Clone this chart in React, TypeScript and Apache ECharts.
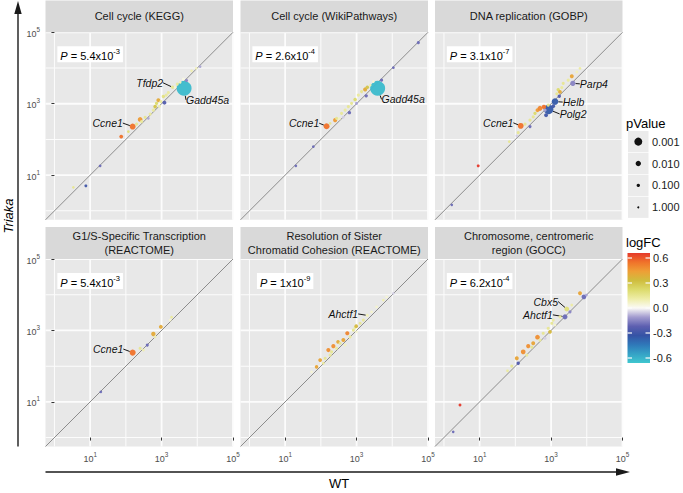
import React, { useEffect, useRef } from 'react';
import * as echarts from 'echarts';

const FONT = '"Liberation Sans", Arial, Helvetica, sans-serif';

// ---------- facet texts ----------
const panelTitles = [
  'Cell cycle (KEGG)',
  'Cell cycle (WikiPathways)',
  'DNA replication (GOBP)',
  'G1/S-Specific Transcription\n(REACTOME)',
  'Resolution of Sister\nChromatid Cohesion (REACTOME)',
  'Chromosome, centromeric\nregion (GOCC)',
];
const panelPMantissa = ['5.4', '2.6', '3.1', '5.4', '1', '6.2'];
const panelPExponent = ['-3', '-4', '-7', '-3', '-9', '-4'];

// ---------- data: [log10 WT, log10 Triaka, logFC, pValue, gene] ----------
type Pt = [number, number, number, number, string?];

const keggPoints: Pt[] = [
  [3.63, 3.43, -0.62, 1e-5, 'Gadd45a'],
  [0.53, 0.66, 0.15, 0.3],
  [0.88, 0.70, -0.30, 0.2],
  [1.28, 1.26, -0.20, 0.25],
  [1.87, 2.08, 0.55, 0.06],
  [2.07, 2.22, 0.20, 0.25],
  [2.19, 2.36, 0.55, 0.006, 'Ccne1'],
  [2.30, 2.43, 0.15, 0.15],
  [2.40, 2.56, 0.45, 0.02],
  [2.44, 2.50, 0.13, 0.15],
  [2.54, 2.62, 0.15, 0.15],
  [2.63, 2.59, -0.10, 0.25],
  [2.68, 2.71, 0.13, 0.15],
  [2.77, 2.82, 0.13, 0.15],
  [2.82, 2.92, 0.30, 0.08],
  [2.86, 3.01, 0.22, 0.1],
  [2.91, 3.10, 0.40, 0.05],
  [2.94, 2.93, 0.10, 0.15],
  [2.98, 3.06, 0.13, 0.15],
  [3.08, 3.03, -0.25, 0.05],
  [3.05, 3.20, 0.18, 0.1],
  [3.13, 3.24, 0.13, 0.15],
  [3.19, 3.31, 0.13, 0.15],
  [3.31, 3.46, 0.15, 0.1, 'Tfdp2'],
  [3.38, 3.46, 0.05, 0.25],
  [3.44, 3.55, 0.13, 0.15],
  [3.52, 3.60, 0.08, 0.25],
  [3.61, 3.69, 0.03, 0.15],
  [3.70, 3.65, -0.15, 0.15],
  [3.84, 3.92, 0.10, 0.3],
  [3.97, 3.99, 0.08, 0.3],
  [4.08, 4.04, -0.10, 0.3],
];

const wikiPoints: Pt[] = [
  [3.59, 3.43, -0.62, 1e-5, 'Gadd45a'],
  [1.30, 1.26, -0.20, 0.3],
  [1.79, 1.80, -0.20, 0.25],
  [2.16, 2.37, 0.55, 0.006, 'Ccne1'],
  [2.26, 2.45, 0.15, 0.25],
  [2.40, 2.54, 0.45, 0.04],
  [2.44, 2.59, 0.15, 0.15],
  [2.52, 2.58, 0.08, 0.25],
  [2.58, 2.73, 0.14, 0.15],
  [2.63, 2.62, -0.05, 0.25],
  [2.68, 2.82, 0.13, 0.15],
  [2.77, 2.92, 0.15, 0.15],
  [2.80, 2.75, -0.20, 0.1],
  [2.86, 3.01, 0.15, 0.15],
  [2.96, 3.12, 0.22, 0.08],
  [3.00, 3.01, -0.10, 0.15],
  [3.05, 3.24, 0.13, 0.15],
  [3.14, 3.34, 0.15, 0.15],
  [3.24, 3.40, 0.40, 0.04],
  [3.27, 3.22, -0.20, 0.1],
  [3.30, 3.46, 0.30, 0.08],
  [3.38, 3.52, 0.10, 0.25],
  [3.47, 3.62, 0.05, 0.25],
  [3.70, 3.66, -0.20, 0.15],
  [4.03, 4.01, -0.20, 0.25],
  [4.73, 4.71, -0.20, 0.15],
];

const dnaReplicationPoints: Pt[] = [
  [2.93, 2.84, -0.35, 3e-4, 'Polg2'],
  [3.11, 3.06, -0.35, 0.003, 'Helb'],
  [3.61, 3.57, -0.15, 0.012, 'Parp4'],
  [0.22, 0.17, -0.20, 0.3],
  [0.96, 1.26, 0.66, 0.2],
  [1.83, 1.94, 0.15, 0.25],
  [2.04, 2.10, -0.05, 0.25],
  [2.08, 2.19, 0.15, 0.15],
  [2.15, 2.38, 0.55, 0.006, 'Ccne1'],
  [2.27, 2.43, 0.15, 0.15],
  [2.41, 2.36, -0.20, 0.15],
  [2.41, 2.54, 0.15, 0.15],
  [2.50, 2.63, 0.15, 0.15],
  [2.55, 2.73, 0.22, 0.1],
  [2.62, 2.82, 0.45, 0.05],
  [2.69, 2.87, 0.50, 0.015],
  [2.80, 2.91, 0.55, 0.03],
  [2.83, 2.82, -0.10, 0.15],
  [2.86, 2.68, -0.30, 0.05],
  [2.92, 2.96, 0.15, 0.15],
  [3.06, 2.93, -0.30, 0.06],
  [3.16, 3.28, 0.15, 0.15],
  [3.20, 3.39, 0.22, 0.1],
  [3.23, 3.21, -0.25, 0.1],
  [3.25, 3.33, 0.40, 0.06],
  [3.30, 3.45, 0.13, 0.15],
  [3.34, 3.57, 0.15, 0.15],
  [3.48, 3.66, 0.13, 0.15],
  [3.58, 3.77, 0.42, 0.05],
  [3.72, 3.89, 0.08, 0.25],
  [3.81, 3.99, 0.13, 0.25],
];

const g1sPoints: Pt[] = [
  [1.30, 1.28, -0.20, 0.3],
  [2.19, 2.38, 0.55, 0.005, 'Ccne1'],
  [2.40, 2.50, 0.15, 0.15],
  [2.49, 2.45, 0.10, 0.25],
  [2.60, 2.59, -0.20, 0.15],
  [2.77, 2.90, 0.40, 0.03],
  [2.82, 2.82, 0.10, 0.25],
  [2.98, 3.10, 0.40, 0.05],
  [3.24, 3.29, 0.05, 0.25],
  [3.28, 3.37, 0.13, 0.25],
];

const sisterPoints: Pt[] = [
  [1.74, 1.84, 0.05, 0.3],
  [1.88, 1.98, 0.42, 0.08],
  [1.98, 2.17, 0.42, 0.06],
  [2.07, 2.08, 0.13, 0.25],
  [2.12, 2.22, 0.15, 0.15],
  [2.21, 2.45, 0.48, 0.04],
  [2.26, 2.31, 0.13, 0.15],
  [2.30, 2.40, 0.15, 0.15],
  [2.35, 2.56, 0.48, 0.04],
  [2.44, 2.50, 0.13, 0.15],
  [2.48, 2.68, 0.40, 0.08],
  [2.54, 2.64, 0.15, 0.15],
  [2.63, 2.73, 0.42, 0.05],
  [2.68, 2.59, 0.08, 0.25],
  [2.74, 2.92, 0.50, 0.04],
  [2.82, 2.82, 0.13, 0.15],
  [2.91, 3.01, 0.15, 0.15],
  [2.96, 3.08, 0.13, 0.15],
  [2.99, 3.12, 0.35, 0.08],
  [3.00, 2.96, 0.05, 0.25],
  [3.10, 3.20, 0.15, 0.15],
  [3.19, 3.29, 0.14, 0.15],
  [3.30, 3.42, 0.08, 0.15, 'Ahctf1'],
  [3.42, 3.52, 0.06, 0.25],
  [3.56, 3.66, 0.06, 0.25],
  [3.75, 3.85, 0.10, 0.3],
  [3.84, 3.94, 0.05, 0.3],
  [4.03, 4.04, -0.05, 0.3],
];

const centromerePoints: Pt[] = [
  [0.26, 0.16, -0.20, 0.3],
  [0.45, 0.91, 0.66, 0.2],
  [1.78, 1.87, 0.13, 0.25],
  [1.90, 2.00, 0.15, 0.15],
  [2.04, 2.22, 0.42, 0.05],
  [2.08, 2.08, -0.25, 0.1],
  [2.22, 2.40, 0.48, 0.02],
  [2.32, 2.31, 0.13, 0.15],
  [2.36, 2.56, 0.48, 0.04],
  [2.46, 2.53, 0.15, 0.15],
  [2.50, 2.64, 0.42, 0.05],
  [2.62, 2.81, 0.48, 0.02],
  [2.69, 2.73, 0.13, 0.15],
  [2.78, 2.92, 0.15, 0.15],
  [2.83, 2.78, -0.05, 0.15],
  [2.92, 3.06, 0.15, 0.15],
  [2.97, 2.96, 0.35, 0.06],
  [3.02, 3.20, 0.15, 0.15],
  [3.06, 3.29, 0.13, 0.15],
  [3.11, 3.15, 0.06, 0.25],
  [3.25, 3.38, 0.13, 0.15],
  [3.39, 3.38, -0.20, 0.015, 'Ahctf1'],
  [3.44, 3.60, 0.20, 0.02, 'Cbx5'],
  [3.53, 3.52, -0.15, 0.15],
  [3.58, 3.71, 0.12, 0.25],
  [3.81, 4.04, 0.42, 0.05],
  [3.92, 3.94, -0.20, 0.02],
  [3.99, 3.99, -0.10, 0.25],
];

const panelPoints = [keggPoints, wikiPoints, dnaReplicationPoints, g1sPoints, sisterPoints, centromerePoints];

// ---------- scales ----------
const AXIS_MIN = -0.25; // log10 limits
const AXIS_MAX = 5;
const majorBreaks = [1, 3, 5];
const minorBreaks = [0, 2, 4];
const legendPValues = [0.001, 0.01, 0.1, 1];
const legendPLabels = ['0.001', '0.010', '0.100', '1.000'];
const logFCTicks = [0.6, 0.3, 0.0, -0.3, -0.6];
const LOGFC_MIN = -0.66;
const LOGFC_MAX = 0.66;
// colours from logFC = -0.66 to 0.66, evenly spaced
const logFCColors = [
  '#3fc7cf', '#35a2c6', '#2f78b9', '#3553a5', '#5d5fb0', '#a29bcf', '#fbfaf6',
  '#eeeda8', '#dcdb6c', '#cfbd3e', '#ee9f36', '#f0722a', '#e5392b',
];
const GRID_LINE_COLOR = '#fcfcfc';
const PANEL_BG = '#e8e8e8';

// label offsets (px) of the repelled gene labels, key = panel:gene
const geneLabelOffsets: Record<string, [number, number]> = {
  '0:Ccne1': [-25, -3.5], '0:Tfdp2': [-23, -4.5], '0:Gadd45a': [23.5, 11.5],
  '1:Ccne1': [-22.5, -3], '1:Gadd45a': [25.5, 11],
  '2:Ccne1': [-22.5, -3], '2:Parp4': [21, 0.5], '2:Helb': [18.5, 0.5], '2:Polg2': [24.5, 4.5],
  '3:Ccne1': [-24.5, -3.5],
  '4:Ahctf1': [-24, -1.5],
  '5:Cbx5': [-21, -7.5], '5:Ahctf1': [-27, -2],
};

// ---------- layout ----------
const LEFTS = [45.5, 240.5, 435];
const TOPS = [32.3, 259];
const PSIZE = 187.5;
const STRIP_H = 31.9;

function sizeOfP(p: number): number {
  const L = -Math.log10(p);
  return 2 + 1.1 * L + 0.3 * L * L;
}

function buildOption(): { option: any; graphic: any[] } {
  const grid: any[] = [];
  const xAxis: any[] = [];
  const yAxis: any[] = [];
  const series: any[] = [];
  const graphic: any[] = [];
  const scatterIdx: number[] = [];

  const tickRich = {
    b: { fontSize: 9, fontFamily: FONT, color: '#4d4d4d', lineHeight: 12, verticalAlign: 'bottom' },
    s: { fontSize: 6.3, fontFamily: FONT, color: '#4d4d4d', lineHeight: 6, verticalAlign: 'top' },
  };
  const tickFmt = (v: number) => `{b|10}{s|${v}}`;

  for (let i = 0; i < 6; i++) {
    const col = i % 3;
    const row = Math.floor(i / 3);
    const left = LEFTS[col];
    const top = TOPS[row];
    grid.push({
      left, top, width: PSIZE, height: PSIZE, show: false, containLabel: false, outerBoundsMode: 'none',
    });
    // panel background
    graphic.push({
      type: 'rect', silent: true, z: -5,
      shape: { x: left, y: top, width: PSIZE, height: PSIZE },
      style: { fill: PANEL_BG },
    });
    xAxis.push({
      type: 'value', gridIndex: i, min: AXIS_MIN, max: AXIS_MAX,
      axisLine: { show: false },
      axisTick: { show: row === 1, length: 3, lineStyle: { color: '#333333', width: 1 }, customValues: majorBreaks },
      axisLabel: { show: row === 1, customValues: majorBreaks, formatter: tickFmt, rich: tickRich, margin: 5 },
      splitLine: { show: false },
    });
    yAxis.push({
      type: 'value', gridIndex: i, min: AXIS_MIN, max: AXIS_MAX,
      axisLine: { show: false },
      axisTick: { show: col === 0, length: 3, lineStyle: { color: '#333333', width: 1 }, customValues: majorBreaks },
      axisLabel: { show: col === 0, customValues: majorBreaks, formatter: tickFmt, rich: tickRich, margin: 5.5 },
      splitLine: { show: false },
    });

    // y = x reference line
    series.push({
      type: 'line', xAxisIndex: i, yAxisIndex: i, silent: true, symbol: 'none', z: 3,
      data: [[AXIS_MIN, AXIS_MIN], [AXIS_MAX, AXIS_MAX]],
      lineStyle: { color: '#8c8c8c', width: 1 },
    });

    const pts = panelPoints[i];
    scatterIdx.push(series.length);
    series.push({
      type: 'scatter', xAxisIndex: i, yAxisIndex: i, z: 4,
      symbolSize: (v: number[]) => sizeOfP(v[3]),
      itemStyle: { opacity: 0.95 },
      label: {
        show: false, position: 'inside', formatter: '{b}',
        fontFamily: FONT, fontSize: 10.5, fontStyle: 'italic', color: '#000000',
      },
      labelLine: { show: false, lineStyle: { color: '#000000', width: 0.9 } },
      labelLayout: (params: any) => {
        const d = pts[params.dataIndex];
        const off = d && d[4] ? geneLabelOffsets[`${i}:${d[4]}`] : undefined;
        return off ? { dx: off[0], dy: off[1] } : {};
      },
      data: pts.map((d) => {
        const item: any = { value: [d[0], d[1], d[2], d[3]] };
        if (d[4]) {
          item.name = d[4];
          item.label = { show: true };
          item.labelLine = { show: true };
        }
        return item;
      }),
    });

    // strip
    graphic.push({
      type: 'rect', silent: true,
      shape: { x: left, y: top - STRIP_H, width: PSIZE, height: STRIP_H },
      style: { fill: '#d9d9d9' },
    });
    graphic.push({
      type: 'text', silent: true, x: left + PSIZE / 2, y: top - STRIP_H / 2,
      style: {
        text: panelTitles[i], align: 'center', verticalAlign: 'middle',
        font: `11px ${FONT}`, fill: '#1a1a1a', lineHeight: 13.5,
      },
    });
    // P-value annotation, centred at WT = 10^1
    graphic.push({
      type: 'text', silent: true, z: 20,
      x: left + ((1 - AXIS_MIN) / (AXIS_MAX - AXIS_MIN)) * PSIZE,
      y: top + 22,
      style: {
        text: `{i|P}{t| = ${panelPMantissa[i]}x10}{s|${panelPExponent[i]}}`,
        align: 'center', verticalAlign: 'middle',
        backgroundColor: '#ffffff', padding: [1, 3, 1, 3],
        rich: {
          i: { fontSize: 11, fontStyle: 'italic', fontFamily: FONT, fill: '#000', color: '#000', lineHeight: 14, verticalAlign: 'bottom' },
          t: { fontSize: 11, fontFamily: FONT, fill: '#000', color: '#000', lineHeight: 14, verticalAlign: 'bottom' },
          s: { fontSize: 7.5, fontFamily: FONT, fill: '#000', color: '#000', lineHeight: 7, verticalAlign: 'top' },
        },
      },
    });
  }

  // axis arrows and titles
  graphic.push({ type: 'line', silent: true, shape: { x1: 18, y1: 446.5, x2: 18, y2: 12 }, style: { stroke: '#1a1a1a', lineWidth: 1.4 } });
  graphic.push({ type: 'polygon', silent: true, shape: { points: [[18, 1], [14.3, 14], [21.7, 14]] }, style: { fill: '#1a1a1a' } });
  graphic.push({ type: 'line', silent: true, shape: { x1: 45.5, y1: 472, x2: 618, y2: 472 }, style: { stroke: '#1a1a1a', lineWidth: 1.4 } });
  graphic.push({ type: 'polygon', silent: true, shape: { points: [[630, 472], [616, 468.3], [616, 475.7]] }, style: { fill: '#1a1a1a' } });
  graphic.push({
    type: 'text', silent: true, x: 8, y: 216, rotation: Math.PI / 2,
    style: { text: 'Triaka', font: `italic 13px ${FONT}`, fill: '#000', align: 'center', verticalAlign: 'middle' },
  });
  graphic.push({
    type: 'text', silent: true, x: 339, y: 483,
    style: { text: 'WT', font: `13px ${FONT}`, fill: '#000', align: 'center', verticalAlign: 'middle' },
  });

  // size legend
  graphic.push({
    type: 'text', silent: true, x: 626, y: 123,
    style: { text: 'pValue', font: `13px ${FONT}`, fill: '#000', align: 'left', verticalAlign: 'middle' },
  });
  legendPValues.forEach((p, k) => {
    const ky = 131 + k * 21.9;
    graphic.push({ type: 'rect', silent: true, shape: { x: 628, y: ky, width: 20.5, height: 21.2 }, style: { fill: '#ebebeb' } });
    graphic.push({ type: 'circle', silent: true, shape: { cx: 638.3, cy: ky + 10.6, r: sizeOfP(p) / 2 }, style: { fill: '#111111' } });
    graphic.push({
      type: 'text', silent: true, x: 652, y: ky + 10.6,
      style: { text: legendPLabels[k], font: `11px ${FONT}`, fill: '#1a1a1a', align: 'left', verticalAlign: 'middle' },
    });
  });

  // colour legend
  graphic.push({
    type: 'text', silent: true, x: 626, y: 242,
    style: { text: 'logFC', font: `13px ${FONT}`, fill: '#000', align: 'left', verticalAlign: 'middle' },
  });
  const barX = 627.5, barY = 253, barW = 22.5, barH = 110;
  const n = logFCColors.length - 1;
  const stops = logFCColors.map((c, k) => ({ offset: (n - k) / n, color: c })).reverse();
  graphic.push({
    type: 'rect', silent: true, shape: { x: barX, y: barY, width: barW, height: barH },
    style: { fill: new echarts.graphic.LinearGradient(0, 0, 0, 1, stops) },
  });
  logFCTicks.forEach((v) => {
    const ty = barY + ((LOGFC_MAX - v) / (LOGFC_MAX - LOGFC_MIN)) * barH;
    graphic.push({ type: 'rect', silent: true, z: 10, shape: { x: barX, y: ty - 0.6, width: 4.5, height: 1.2 }, style: { fill: GRID_LINE_COLOR } });
    graphic.push({ type: 'rect', silent: true, z: 10, shape: { x: barX + barW - 4.5, y: ty - 0.6, width: 4.5, height: 1.2 }, style: { fill: GRID_LINE_COLOR } });
    graphic.push({
      type: 'text', silent: true, x: 653, y: ty,
      style: { text: v.toFixed(1), font: `11px ${FONT}`, fill: '#1a1a1a', align: 'left', verticalAlign: 'middle' },
    });
  });

  const option = {
    animation: false,
    backgroundColor: '#ffffff',
    textStyle: { fontFamily: FONT },
    grid,
    xAxis,
    yAxis,
    visualMap: {
      type: 'continuous', show: false, min: LOGFC_MIN, max: LOGFC_MAX, dimension: 2,
      seriesIndex: scatterIdx, inRange: { color: logFCColors },
    },
    series,
    graphic: { elements: graphic },
  };
  return { option, graphic };
}

// panel grid lines (thin light bars) placed through the axes' data -> pixel conversion
function gridLineElements(chart: echarts.ECharts): any[] {
  const out: any[] = [];
  const specs = [
    ...minorBreaks.map((v) => ({ v, w: 1 })),
    ...majorBreaks.map((v) => ({ v, w: 1.8 })),
  ];
  for (let i = 0; i < 6; i++) {
    const col = i % 3;
    const row = Math.floor(i / 3);
    const toPx = (x: number, y: number): number[] => {
      let r: any = null;
      try { r = chart.convertToPixel({ gridIndex: i }, [x, y]); } catch (e) { r = null; }
      if (r && isFinite(r[0]) && isFinite(r[1])) return r as number[];
      return [
        LEFTS[col] + ((x - AXIS_MIN) / (AXIS_MAX - AXIS_MIN)) * PSIZE,
        TOPS[row] + ((AXIS_MAX - y) / (AXIS_MAX - AXIS_MIN)) * PSIZE,
      ];
    };
    specs.forEach(({ v, w }) => {
      const a = toPx(v, AXIS_MIN);
      const b = toPx(v, AXIS_MAX);
      const c = toPx(AXIS_MIN, v);
      const d = toPx(AXIS_MAX, v);
      out.push({
        type: 'rect', silent: true, z: -4,
        shape: { x: a[0] - w / 2, y: Math.min(a[1], b[1]), width: w, height: Math.abs(a[1] - b[1]) },
        style: { fill: GRID_LINE_COLOR },
      });
      out.push({
        type: 'rect', silent: true, z: -4,
        shape: { x: Math.min(c[0], d[0]), y: c[1] - w / 2, width: Math.abs(d[0] - c[0]), height: w },
        style: { fill: GRID_LINE_COLOR },
      });
    });
  }
  return out;
}

export default function App() {
  const ref = useRef<HTMLDivElement>(null);
  useEffect(() => {
    if (!ref.current) return;
    const chart = echarts.init(ref.current, undefined, { renderer: 'svg' });
    const { option, graphic } = buildOption();
    chart.setOption(option);
    chart.setOption({ graphic: { elements: [...graphic, ...gridLineElements(chart)] } });
    return () => chart.dispose();
  }, []);
  return <div ref={ref} style={{ position: 'fixed', left: 0, top: 0, width: 683, height: 493 }} />;
}
